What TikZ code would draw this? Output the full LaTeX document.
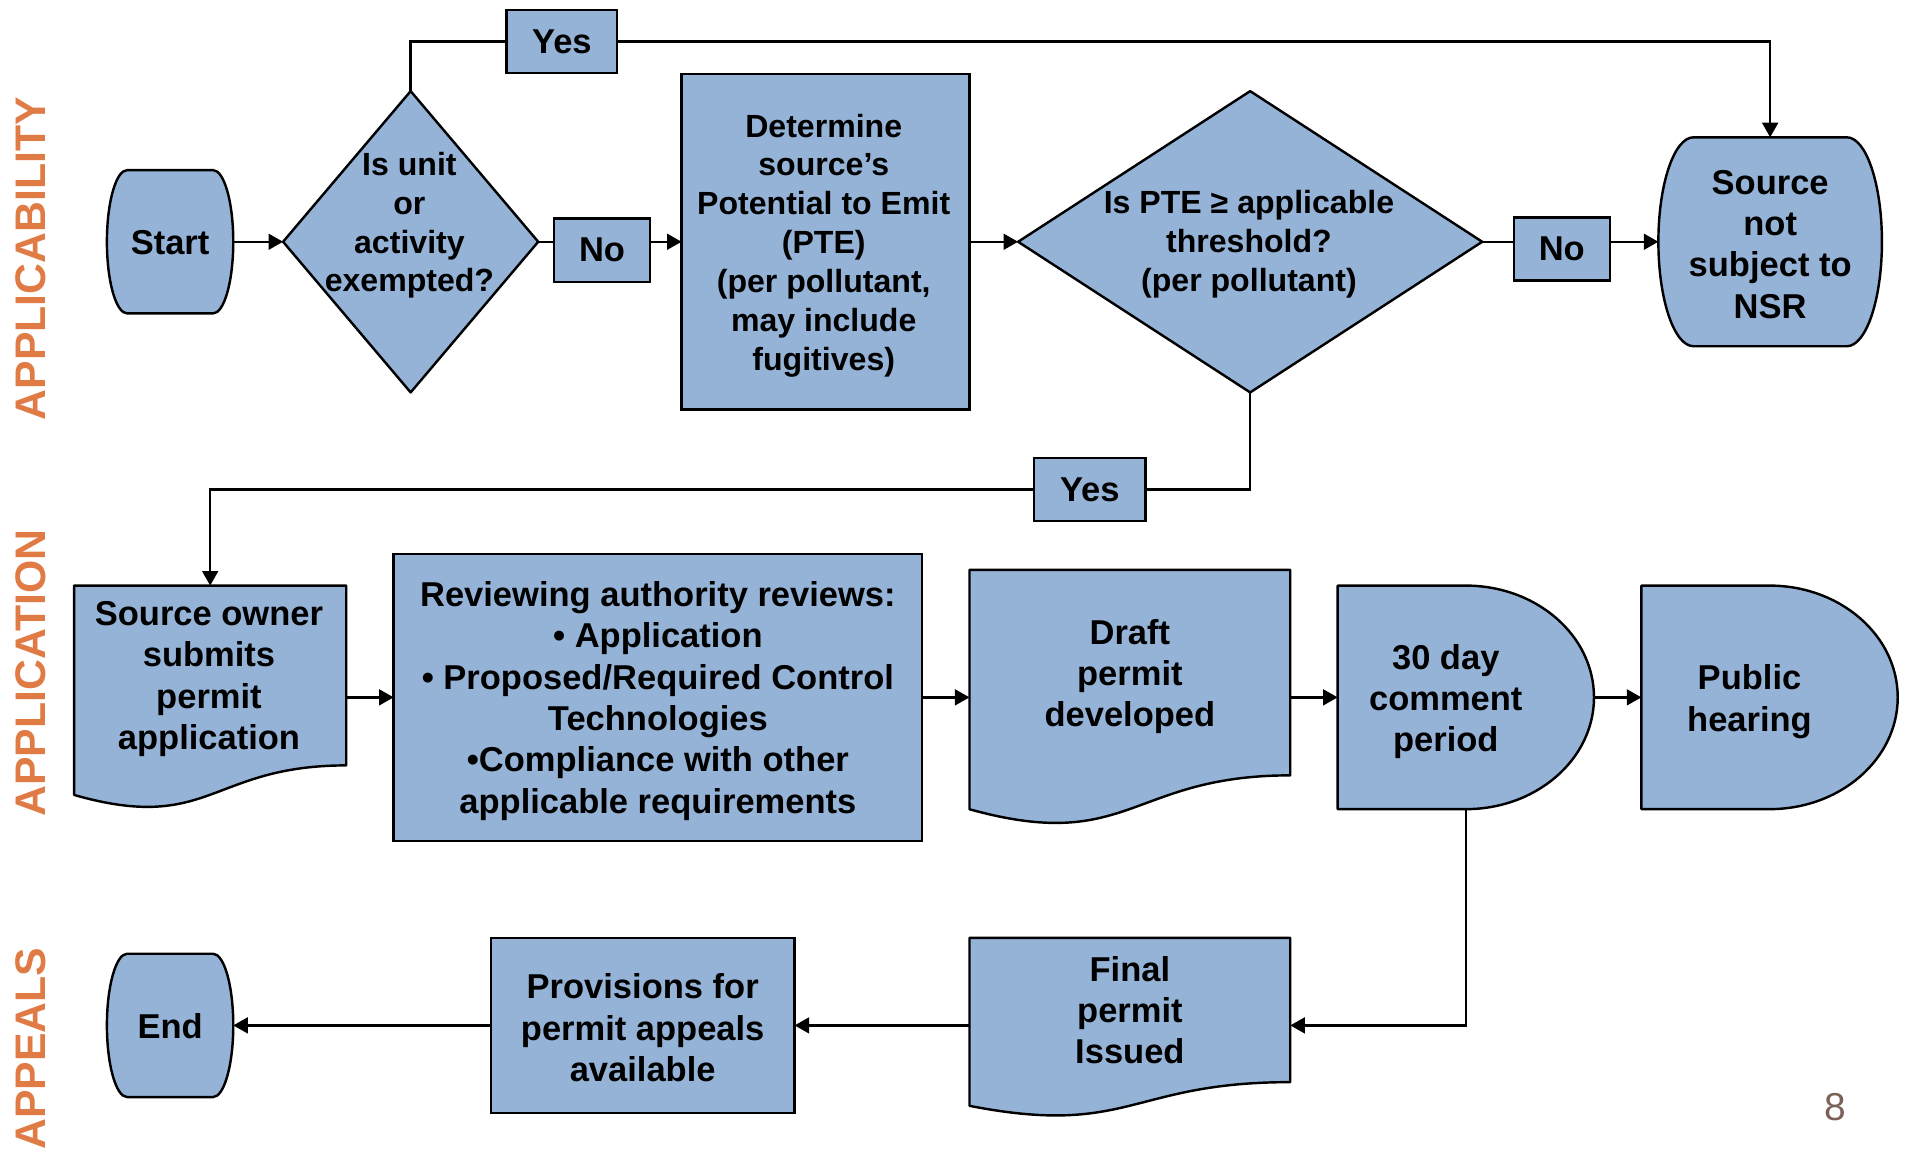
\documentclass[tikz,border=0pt]{standalone}
\usepackage{fontspec}
\setmainfont{Liberation Sans}
\usetikzlibrary{arrows.meta,calc}
\definecolor{boxfill}{HTML}{95B3D7}
\definecolor{sidelab}{HTML}{E07B45}
\definecolor{pagenum}{HTML}{7A6258}
\newcommand\bigtxt{\fontsize{14.2}{17}\selectfont\bfseries}
\newcommand\midtxt{\fontsize{13.2}{16}\selectfont\bfseries}
\begin{document}
\begin{tikzpicture}[x=0.5pt,y=-0.5pt,
  shp/.style={draw=black, fill=boxfill, line width=1pt, line join=round},
  boxnode/.style={draw=black, fill=boxfill, line width=1pt, inner sep=0pt, outer sep=0pt, align=center, font=\bigtxt},
  holder/.style={inner sep=0pt, outer sep=0pt},
  txt/.style={align=center, inner sep=0pt, font=\bigtxt},
  conn/.style={line width=1pt},
  arr/.style={conn, -{Triangle[length=6pt,width=6.5pt]}},
  side/.style={rotate=90, inner sep=0pt, text=sidelab, font=\fontsize{17.6}{20}\selectfont\bfseries}]
\useasboundingbox (0,0) rectangle (1568,947);

% ---- side labels
\node[side] (labA) at (25,213) {APPLICABILITY};
\node[side] (labB) at (25,554) {APPLICATION};
\node[side] (labC) at (25,863) {APPEALS};
\node[text=pagenum, inner sep=0pt, font=\fontsize{16}{18}\selectfont] (pnum) at (1511,911) {8};

% ---- custom shapes (drawn first)
% Start terminator
\path[shp] (104.7,140) -- (175.3,140) .. controls (184.5,140) and (192,166.4) .. (192,199)
  .. controls (192,231.6) and (184.5,258) .. (175.3,258) -- (104.7,258)
  .. controls (95.5,258) and (88,231.6) .. (88,199) .. controls (88,166.4) and (95.5,140) .. (104.7,140) -- cycle;
% End terminator
\path[shp] (104.7,785) -- (175.3,785) .. controls (184.5,785) and (192,811.4) .. (192,844)
  .. controls (192,876.6) and (184.5,903) .. (175.3,903) -- (104.7,903)
  .. controls (95.5,903) and (88,876.6) .. (88,844) .. controls (88,811.4) and (95.5,785) .. (104.7,785) -- cycle;
% NSR terminator
\path[shp] (1394,113) -- (1520,113) .. controls (1536,113) and (1549,151.5) .. (1549,199)
  .. controls (1549,246.5) and (1536,285) .. (1520,285) -- (1394,285)
  .. controls (1378,285) and (1365,246.5) .. (1365,199) .. controls (1365,151.5) and (1378,113) .. (1394,113) -- cycle;
% diamonds
\path[shp] (338,75) -- (443,199) -- (338,323) -- (233,199) -- cycle;
\path[shp] (1029,75) -- (1220,199) -- (1029,323) -- (838,199) -- cycle;
% documents
\path[shp] (61,482) -- (285,482) -- (285,630) .. controls (173,630) and (173,686.3) .. (61,654.3) -- cycle;
\path[shp] (798,469) -- (1062,469) -- (1062,638.2) .. controls (930,638.2) and (930,702.7) .. (798,666.1) -- cycle;
\path[shp] (798,772) -- (1062,772) -- (1062,890.7) .. controls (930,890.7) and (930,935.9) .. (798,910.2) -- cycle;
% delays
\path[shp] (1101,482) -- (1206.5,482) .. controls (1264.8,482) and (1312,523.2) .. (1312,574)
  .. controls (1312,624.8) and (1264.8,666) .. (1206.5,666) -- (1101,666) -- cycle;
\path[shp] (1351,482) -- (1456.5,482) .. controls (1514.8,482) and (1562,523.2) .. (1562,574)
  .. controls (1562,624.8) and (1514.8,666) .. (1456.5,666) -- (1351,666) -- cycle;

% ---- holder nodes (anchors of the custom shapes)
\node[holder, minimum width=52pt, minimum height=59pt] (start) at (140,199) {};
\node[holder, minimum width=52pt, minimum height=59pt] (end) at (140,844) {};
\node[holder, minimum width=92pt, minimum height=86pt] (nsr) at (1457,199) {};
\node[holder, minimum width=105pt, minimum height=124pt] (d1) at (338,199) {};
\node[holder, minimum width=191pt, minimum height=124pt] (d2) at (1029,199) {};
\node[holder, minimum width=112pt, minimum height=92pt] (owner) at (173,574) {};
\node[holder, minimum width=132pt, minimum height=105pt] (draft) at (930,574) {};
\node[holder, minimum width=132pt, minimum height=72pt] (final) at (930,844) {};
\node[holder, minimum width=105.5pt, minimum height=92pt] (delay) at (1206.5,574) {};
\node[holder, minimum width=105.5pt, minimum height=92pt] (pub) at (1456.5,574) {};

% ---- texts of custom shapes
\node[txt] (starttxt) at (140,200) {Start};
\node[txt] (endtxt) at (140,845) {End};
\node[txt] (nsrtxt) at (1457,201) {Source\\not\\subject to\\NSR};
\node[txt, font=\midtxt] (d1txt) at (337,185.5) {Is unit\\or\\activity\\exempted?};
\node[txt, font=\midtxt] (d2txt) at (1028,201) {Is PTE ≥ applicable\\threshold?\\(per pollutant)};
\node[txt] (ownertxt) at (172,559) {Source owner\\submits\\permit\\application};
\node[txt] (drafttxt) at (930,557) {Draft\\permit\\developed};
\node[txt] (finaltxt) at (930,831.5) {Final\\permit\\Issued};
\node[txt] (delaytxt) at (1190,577.5) {30 day\\comment\\period};
\node[txt] (pubtxt) at (1440,577.5) {Public\\hearing};

% ---- rectangular boxes
\node[boxnode, minimum width=45.5pt, minimum height=26pt] (yes1) at (462.5,34) {Yes};
\node[boxnode, minimum width=39.5pt, minimum height=26pt] (no1) at (495.5,206) {No};
\node[boxnode, minimum width=39.5pt, minimum height=26pt] (no2) at (1285.5,205) {No};
\node[boxnode, minimum width=46pt, minimum height=26pt] (yes2) at (897,403) {Yes};
\node[boxnode, font=\midtxt, minimum width=118.5pt, minimum height=138pt] (det) at (679.5,199) {};
\node[txt, font=\midtxt] (dettxt) at (678,202)
  {Determine\\source’s\\Potential to Emit\\(PTE)\\(per pollutant,\\may include\\fugitives)};
\node[boxnode, minimum width=217.5pt, minimum height=118pt] (rev) at (541.5,574) {};
\node[txt] (revtxt) at (541.5,577)
  {Reviewing authority reviews:\\• Application\\• Proposed/Required Control\\Technologies\\•Compliance with other\\applicable requirements};
\node[boxnode, minimum width=125pt, minimum height=72pt] (prov) at (529,844) {};
\node[txt] (provtxt) at (529,846) {Provisions for\\permit appeals\\available};

% ---- connectors
\draw[arr] (start.east) -- (d1.west);
\draw[conn] (d1.east) -- (d1.east -| no1.west);
\draw[arr] (det.west -| no1.east) -- (det.west);
\draw[conn] (d1.north) |- (yes1.west);
\draw[arr] (yes1.east) -| (nsr.north);
\draw[arr] (det.east) -- (d2.west);
\draw[conn] (d2.east) -- (d2.east -| no2.west);
\draw[arr] (nsr.west -| no2.east) -- (nsr.west);
\draw[conn] (d2.south) |- (yes2.east);
\draw[arr] (yes2.west) -| (owner.north);
\draw[arr] (owner.east) -- (rev.west);
\draw[arr] (rev.east) -- (draft.west);
\draw[arr] (draft.east) -- (delay.west);
\draw[arr] (delay.east) -- (pub.west);
\draw[arr] (delay.south) |- (final.east);
\draw[arr] (final.west) -- (prov.east);
\draw[arr] (prov.west) -- (end.east);
\end{tikzpicture}
\end{document}
